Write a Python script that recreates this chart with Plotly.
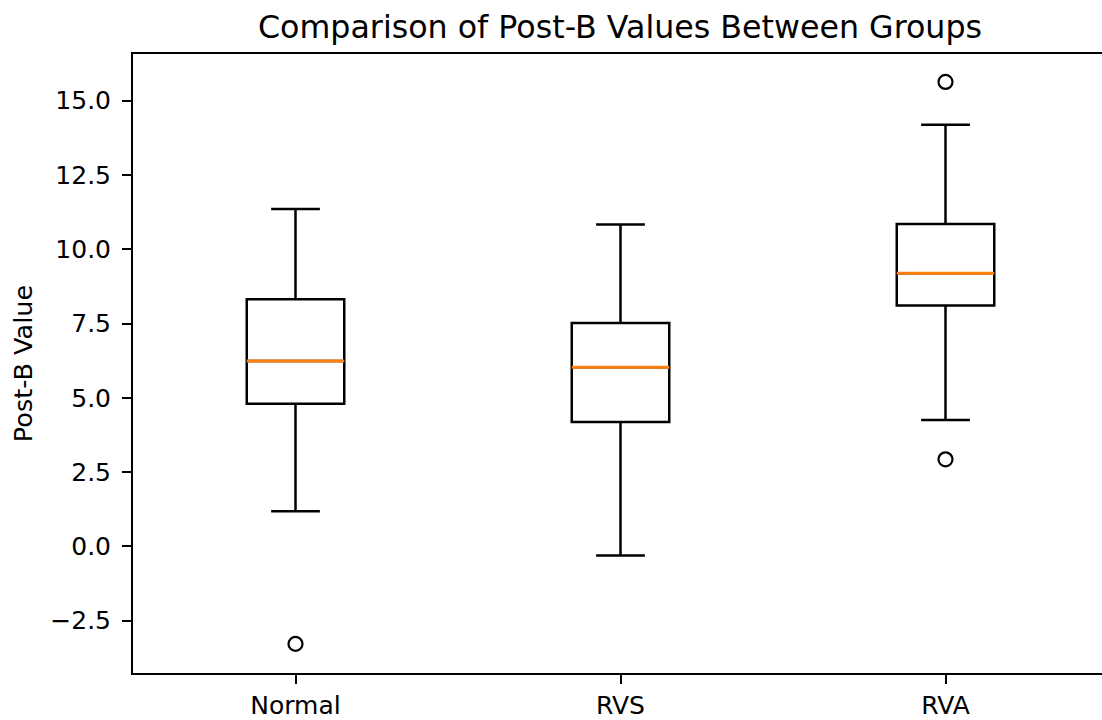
import plotly.graph_objects as go

# ---- data ----
groups = ["Normal", "RVS", "RVA"]
positions = [1, 2, 3]
q1 = [4.80, 4.19, 8.11]
median = [6.24, 6.03, 9.19]
q3 = [8.32, 7.52, 10.85]
lower_whisker = [1.18, -0.31, 4.25]
upper_whisker = [11.35, 10.83, 14.19]
outlier_x = [1, 3, 3]
outlier_y = [-3.28, 15.63, 2.93]
y_ticks = [-2.5, 0.0, 2.5, 5.0, 7.5, 10.0, 12.5, 15.0]
y_tick_labels = ["\u22122.5", "0.0", "2.5", "5.0", "7.5", "10.0", "12.5", "15.0"]

BOX_W = 0.3
FONT = "DejaVu Sans"

fig = go.Figure()

fig.add_trace(go.Box(
    x=positions, q1=q1, median=median, q3=q3,
    lowerfence=lower_whisker, upperfence=upper_whisker,
    width=BOX_W, whiskerwidth=0.5, boxpoints=False,
    fillcolor="rgba(0,0,0,0)",
    line=dict(color="black", width=2.5),
    showlegend=False, hoverinfo="skip",
))

# orange median lines
for p, m in zip(positions, median):
    fig.add_trace(go.Scatter(
        x=[p - BOX_W / 2, p + BOX_W / 2], y=[m, m], mode="lines",
        line=dict(color="#ff7f0e", width=3), showlegend=False, hoverinfo="skip",
    ))

# outliers
fig.add_trace(go.Scatter(
    x=outlier_x, y=outlier_y, mode="markers",
    marker=dict(symbol="circle-open", size=14, color="black", line=dict(width=2.2, color="black")),
    showlegend=False, hoverinfo="skip",
))

fig.update_layout(
    width=1102, height=720,
    margin=dict(l=133, r=0, t=54, b=43),
    plot_bgcolor="white", paper_bgcolor="white",
    font=dict(family=FONT, color="black", size=25),
    title=dict(text="Comparison of Post-B Values Between Groups",
               font=dict(family=FONT, size=31.7, color="black"),
               x=620 / 1102, xref="container", xanchor="center",
               y=1 - 27 / 720, yref="container", yanchor="middle"),
)

fig.update_xaxes(
    range=[0.5, 0.5 + 969 / 325], tickmode="array", tickvals=positions, ticktext=groups,
    showgrid=False, zeroline=False, showline=True, linecolor="black", linewidth=2, mirror=True,
    ticks="outside", ticklen=9, tickwidth=2, tickcolor="black",
    tickfont=dict(family=FONT, size=25, color="black"),
)
fig.update_yaxes(
    range=[-4.26, 16.57], tickmode="array", tickvals=y_ticks, ticktext=y_tick_labels,
    showgrid=False, zeroline=False, showline=True, linecolor="black", linewidth=2, mirror=False,
    ticks="outside", ticklen=9, tickwidth=2, tickcolor="black", ticklabelstandoff=6,
    tickfont=dict(family=FONT, size=25, color="black"),
    title=dict(text="Post-B Value", font=dict(family=FONT, size=25.5, color="black"), standoff=10),
)

fig.write_html("out.html")
